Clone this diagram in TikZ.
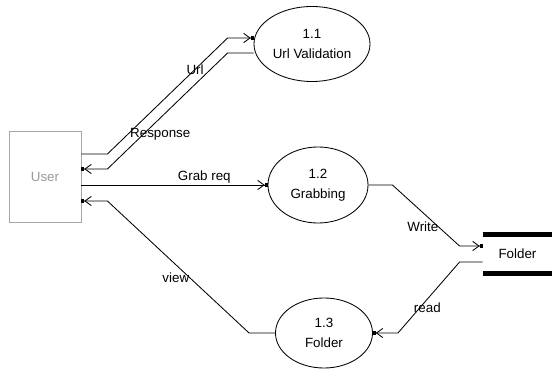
\documentclass[tikz,border=0pt]{standalone}
\usepackage{fontspec}
\setmainfont{Liberation Sans}
\usetikzlibrary{shapes.geometric,arrows.meta,calc}

\tikzset{
  proc/.style={draw,ellipse,inner sep=0pt,align=center},
  flow/.style={-{Straight Barb[length=4.5pt,width=6.5pt]Square[length=2pt,width=2.5pt]}},
  storebar/.style={line width=3.2pt}
}

\begin{document}
\begin{tikzpicture}[x=0.025cm,y=0.025cm,font=\fontsize{9.5}{14}\selectfont,line width=0.6pt]
  \useasboundingbox (0,0) rectangle (552,369);

  \node[draw=gray!70,text=gray!80,minimum width=1.8cm,minimum height=2.275cm] (user) at (45,192.5) {User};
  \node[proc,minimum width=2.9cm,minimum height=1.875cm] (v11) at (312,325) {1.1\\Url Validation};
  \node[proc,minimum width=2.5cm,minimum height=1.9cm] (v12) at (318,184) {1.2\\Grabbing};
  \node[proc,minimum width=2.425cm,minimum height=1.75cm] (v13) at (324,36) {1.3\\Folder};
  \node[minimum width=1.725cm,minimum height=0.95cm] (store) at (517.5,115) {Folder};
  \draw[storebar] (store.north west) -- (store.north east);
  \draw[storebar] (store.south west) -- (store.south east);

  \draw[flow] ($(user.east)+(0,22.5)$)
  -- ++(26,0)
  -- ($(v11.west)+(-26,6)$) node[pos=0.73] {Url}
  -- ($(v11.west)+(0,6)$);
  \draw[flow] ($(v11.west)+(0,-9)$)
  -- ++(-26,0)
  -- ($(user.east)+(26,7.5)$) node[pos=0.7,xshift=0.42cm] {Response}
  -- ($(user.east)+(0,7.5)$);
  \draw[flow] (user.east |- v12.west)
  -- (v12.west) node[pos=0.66,above,inner sep=1pt] {Grab req};
  \draw[flow] (v13.west)
  -- ++(-26,0)
  -- ($(user.east)+(26,-24.5)$) node[pos=0.42,left,inner sep=0pt] {view}
  -- ($(user.east)+(0,-24.5)$);
  \draw[flow] (v12.east)
  -- ++(24,0)
  -- ($(store.west)+(-23,8)$) node[pos=0.69,left,inner sep=0pt] {Write}
  -- ($(store.west)+(0,8)$);
  \draw[flow] ($(store.west)+(0,-8)$)
  -- ++(-23,0)
  -- ($(v13.east)+(25,0)$) node[pos=0.64,xshift=0.18cm] {read}
  -- (v13.east);
\end{tikzpicture}
\end{document}
